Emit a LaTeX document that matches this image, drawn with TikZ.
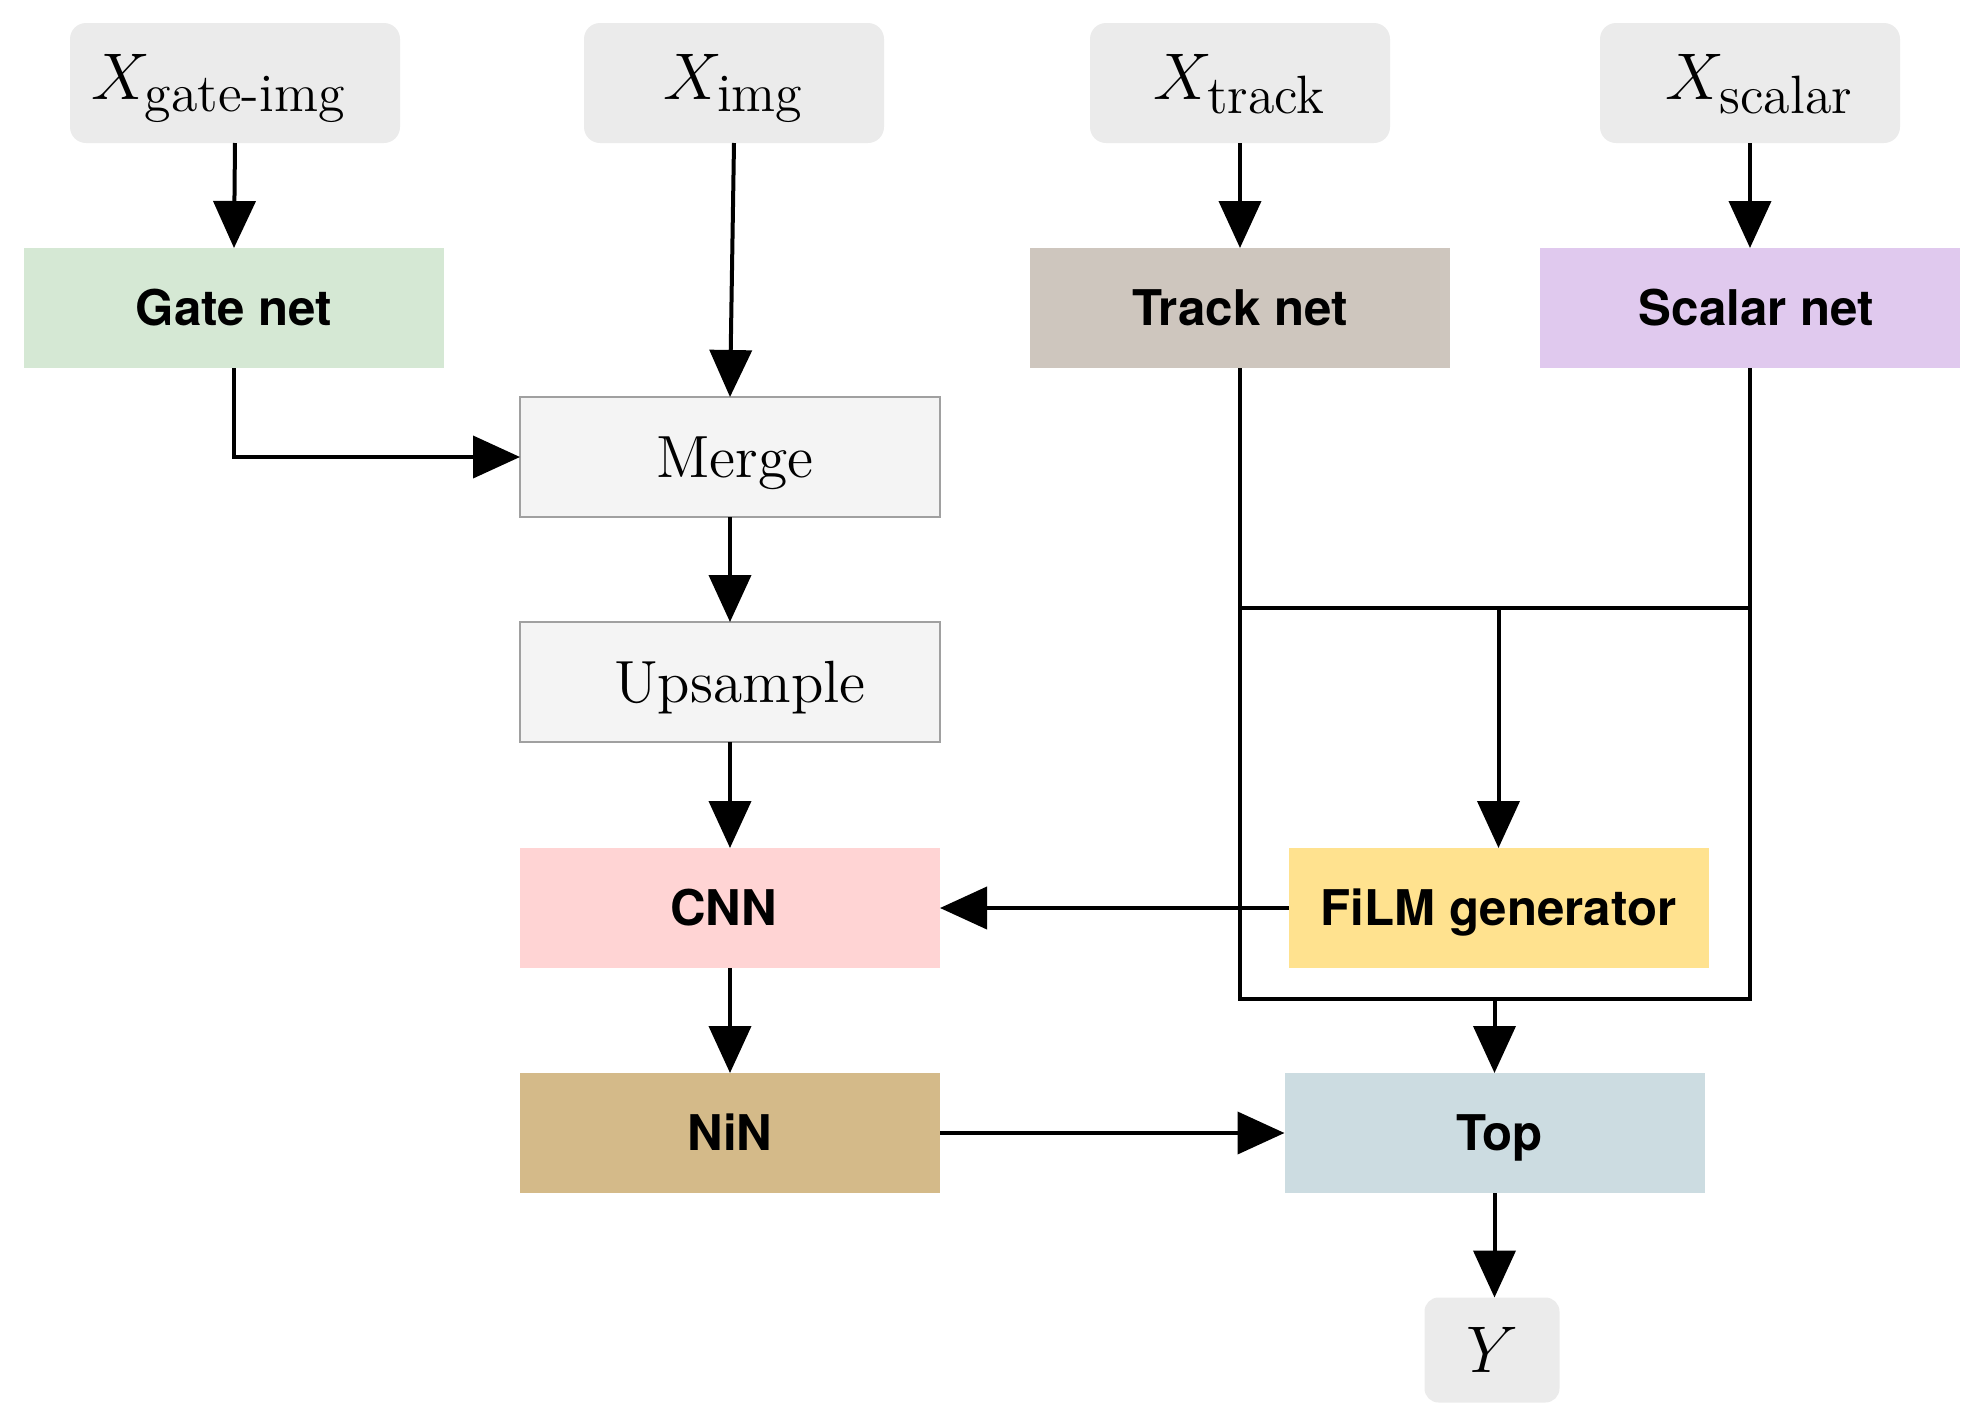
\RequirePackage{fix-cm}
\documentclass[tikz,border=0pt]{standalone}
\usepackage{amsmath}
\usepackage{fontspec}
\setsansfont{TeX Gyre Heros}
\usetikzlibrary{arrows.meta}
\newcommand\subtxt[1]{\mbox{\fontsize{13.5}{15}\selectfont #1}}
\definecolor{inbg}{HTML}{EBEBEB}
\definecolor{gatec}{HTML}{D5E8D4}
\definecolor{trackc}{HTML}{CEC6BE}
\definecolor{scalarc}{HTML}{E0C9EE}
\definecolor{mergec}{HTML}{F4F4F4}
\definecolor{mergeb}{HTML}{A0A0A0}
\definecolor{cnnc}{HTML}{FFD4D4}
\definecolor{ninc}{HTML}{D4BA89}
\definecolor{filmc}{HTML}{FFE28F}
\definecolor{topc}{HTML}{CCDCE1}
\tikzset{
  inbox/.style={fill=inbg, rounded corners=4pt, minimum width=75pt, minimum height=30pt,
    inner sep=0pt, outer sep=0pt, text height=11.3pt, text depth=3.3pt,
    font=\fontsize{16.5}{20}\selectfont},
  netbox/.style={minimum width=105pt, minimum height=30pt, inner sep=0pt, outer sep=0pt,
    text height=8.8pt, text depth=0pt,
    font=\fontsize{12.3}{15}\selectfont\sffamily\bfseries},
  procbox/.style={fill=mergec, draw=mergeb, line width=0.3pt, minimum width=105pt, minimum height=30pt,
    inner sep=0pt, outer sep=0pt, text depth=0pt, font=\fontsize{14.9}{17}\selectfont},
  conn/.style={line width=1pt},
  arr/.style={line width=1pt, -{Triangle[length=11.75pt, width=10.5pt]}}
}
\begin{document}
\begin{tikzpicture}[x=0.25pt, y=-0.25pt]
\useasboundingbox (0,0) rectangle (1984,1425);
% inputs
\node[inbox, minimum width=82.5pt] (gimg) at (235,83) {$X_{\subtxt{gate-img}}$\hspace*{8pt}};
\node[inbox] (ximg) at (734,83) {$X_{\subtxt{img}}$};
\node[inbox] (xtrack) at (1240,83) {$X_{\subtxt{track}}$};
\node[inbox] (xscalar) at (1750,83) {\hspace*{5pt}$X_{\subtxt{scalar}}$};
% nets
\node[netbox, fill=gatec] (gate) at (234,308) {Gate net};
\node[netbox, fill=trackc] (track) at (1240,308) {Track net};
\node[netbox, fill=scalarc] (scalar) at (1750,308) {\hspace*{3.2pt}Scalar net};
% image branch
\node[procbox] (merge) at (730,457) {\hspace*{2.5pt}Merge};
\node[procbox] (ups) at (730,682) {\hspace*{5pt}Upsample};
\node[netbox, fill=cnnc] (cnn) at (730,908) {CNN\hspace*{3.2pt}};
\node[netbox, fill=ninc] (nin) at (730,1133) {NiN};
\node[netbox, fill=filmc] (film) at (1498.5,908) {FiLM generator};
\node[netbox, fill=topc] (top) at (1494.5,1133) {\hspace*{2.5pt}Top};
\node[inbox, minimum width=33.75pt, minimum height=26.25pt, rounded corners=3.5pt,
  text height=11.3pt, text depth=0pt] (y) at (1492,1350) {$Y$};
% bus coordinates
\coordinate (tl) at (1240,608);
\coordinate (tr) at (1750,608);
\coordinate (bl) at (1240,999);
\coordinate (br) at (1750,999);
% connectors
\draw[arr] (gimg.south) -- (gate.north);
\draw[arr] (xtrack.south) -- (track.north);
\draw[arr] (xscalar.south) -- (scalar.north);
\draw[arr] (ximg.south) -- (merge.north);
\draw[arr] (gate.south) |- (merge.west);
\draw[arr] (merge.south) -- (ups.north);
\draw[arr] (ups.south) -- (cnn.north);
\draw[arr] (cnn.south) -- (nin.north);
\draw[arr] (film.west) -- (cnn.east);
\draw[arr] (nin.east) -- (top.west);
\draw[conn] (track.south) -- (bl) -- (br) -- (scalar.south);
\draw[conn] (tl) -- (tr);
\draw[arr] (film.north |- tl) -- (film.north);
\draw[arr] (top.north |- bl) -- (top.north);
\draw[arr] (top.south) -- (top.south |- y.north);
\end{tikzpicture}
\end{document}
